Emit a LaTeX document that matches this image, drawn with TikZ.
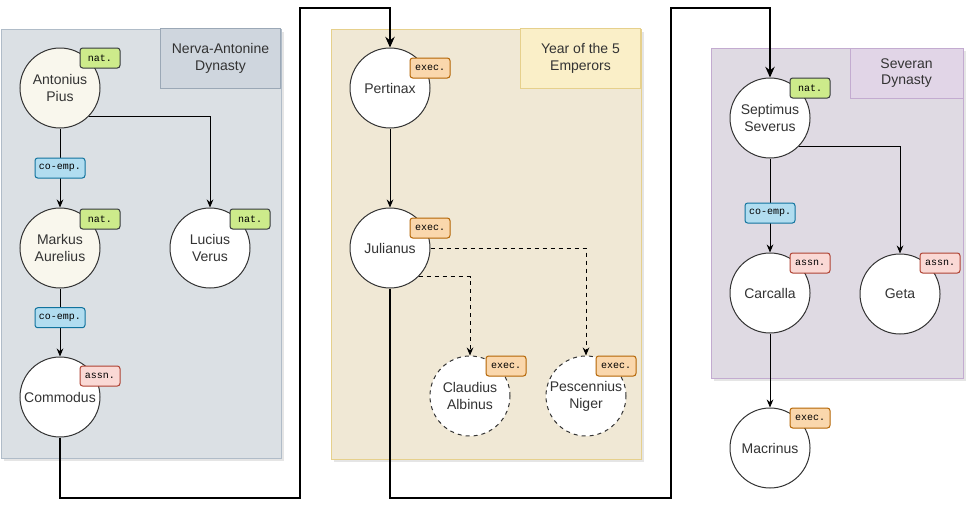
\documentclass[tikz,border=0pt]{standalone}
\usepackage{fontspec}
\setmainfont{Liberation Sans}
\setmonofont{Liberation Mono}
\usetikzlibrary{arrows.meta}

\definecolor{nervafill}{RGB}{219,224,228}
\definecolor{nervadraw}{RGB}{176,188,200}
\definecolor{nervatitle}{RGB}{207,214,222}
\definecolor{nervatitledraw}{RGB}{155,168,182}
\definecolor{yearfill}{RGB}{240,232,213}
\definecolor{yeardraw}{RGB}{230,208,140}
\definecolor{yeartitle}{RGB}{250,239,200}
\definecolor{severfill}{RGB}{223,218,227}
\definecolor{severdraw}{RGB}{195,171,208}
\definecolor{severtitle}{RGB}{225,213,231}
\definecolor{cream}{RGB}{249,247,237}
\definecolor{natfill}{RGB}{205,235,139}
\definecolor{natdraw}{RGB}{54,57,61}
\definecolor{empfill}{RGB}{177,221,240}
\definecolor{empdraw}{RGB}{16,115,158}
\definecolor{assnfill}{RGB}{250,217,213}
\definecolor{assndraw}{RGB}{174,65,50}
\definecolor{execfill}{RGB}{250,215,172}
\definecolor{execdraw}{RGB}{180,101,4}

\begin{document}
\begin{tikzpicture}[x=0.75pt, y=-0.75pt, font=\fontsize{10.5}{12.6}\selectfont,
	emperor/.style = {draw=black!80, line width=0.75pt, circle, fill=white, minimum size=60pt, inner sep=0pt, align=center, text=black!80},
	rival/.style = {emperor, dashed},
	tag/.style = {draw, line width=0.75pt, rounded corners=2pt, minimum width=30pt, minimum height=15pt, inner sep=0pt, font=\ttfamily\fontsize{7.5}{9}\selectfont},
	nat/.style = {tag, fill=natfill, draw=natdraw},
	assn/.style = {tag, fill=assnfill, draw=assndraw},
	exec/.style = {tag, fill=execfill, draw=execdraw},
	coemp/.style = {tag, fill=empfill, draw=empdraw, minimum width=37.5pt},
	panel/.style = {line width=0.75pt},
	title/.style = {draw, line width=0.75pt, minimum width=90pt, minimum height=45pt, inner sep=0pt, align=center, text=black!80},
	edge/.style = {line width=0.75pt, -{Stealth[length=6pt, width=5pt]}},
	succ/.style = {line width=1.5pt, -{Stealth[length=8pt, width=7pt]}}]
		\useasboundingbox (0,0) rectangle (966,507);
		
		\begin{scope}
			\fill[black!10] (4,32) rectangle (284,461);
			\draw[panel, fill=nervafill, draw=nervadraw] (1,29) rectangle (281,458);
			\node[title, fill=nervatitle, draw=nervatitledraw] (nerva) at (220.5,58.5) {Nerva-Antonine\\Dynasty};
			
			\node[emperor, fill=cream] (pius) at (60,88) {Antonius\\Pius};
			\node[emperor, fill=cream] (markus) at (60,248) {Markus\\Aurelius};
			\node[emperor] (lucius) at (210,248) {Lucius\\Verus};
			\node[emperor] (commodus) at (60,397) {Commodus};
			
			\draw[edge] (pius) -- node[coemp] (emp1) {co-emp.} (markus);
			\draw[edge] (pius.-44) -| (lucius.north);
			\draw[edge] (markus) -- node[coemp, pos=0.43] (emp2) {co-emp.} (commodus);
			
			\node[nat] (piustag) at (100,58) {nat.};
			\node[nat] (markustag) at (100,219) {nat.};
			\node[nat] (luciustag) at (250,219) {nat.};
			\node[assn] (commodustag) at (100,376) {assn.};
		\end{scope}
		
		\begin{scope}
			\fill[black!10] (334,32) rectangle (644,462);
			\draw[panel, fill=yearfill, draw=yeardraw] (331,29) rectangle (641,459);
			\node[title, fill=yeartitle, draw=yeardraw] (year) at (580.5,58.5) {Year of the 5\\Emperors};
			
			\node[emperor] (pertinax) at (390,88) {Pertinax};
			\node[emperor] (julianus) at (390,248) {Julianus};
			\node[rival] (albinus) at (470,396) {Claudius\\Albinus};
			\node[rival] (niger) at (586,396) {Pescennius\\Niger};
			
			\draw[edge] (pertinax) -- (julianus);
			\draw[edge, dashed] (julianus.east) -| (niger.north);
			\draw[edge, dashed] (julianus.-45) -| (albinus.north);
			
			\node[exec] (pertinaxtag) at (430,68) {exec.};
			\node[exec] (julianustag) at (430,228) {exec.};
			\node[exec] (albinustag) at (506,366) {exec.};
			\node[exec] (nigertag) at (616,366) {exec.};
		\end{scope}
		
		\begin{scope}
			\fill[black!10] (714,51) rectangle (966,381);
			\draw[panel, fill=severfill, draw=severdraw] (711,48) rectangle (963,378);
			\node[title, fill=severtitle, draw=severdraw, minimum width=84.75pt, minimum height=37.5pt] (severan) at (906.5,73) {Severan\\Dynasty};
			
			\node[emperor] (septimus) at (770,118) {Septimus\\Severus};
			\node[emperor] (carcalla) at (770,293) {Carcalla};
			\node[emperor] (geta) at (900,294) {Geta};
			\node[emperor] (macrinus) at (770,448) {Macrinus};
			
			\draw[edge] (septimus) -- node[coemp, pos=0.58] (emp3) {co-emp.} (carcalla);
			\draw[edge] (septimus.-44) -| (geta.north);
			\draw[edge] (carcalla) -- (macrinus);
			
			\node[nat] (septimustag) at (810,88) {nat.};
			\node[assn] (carcallatag) at (810,263) {assn.};
			\node[assn] (getatag) at (940,263) {assn.};
			\node[exec] (macrinustag) at (810,418) {exec.};
		\end{scope}
		
		\path[shape=coordinate]
		(300,498) coordinate(A)
		(300,8) coordinate(B)
		(671,498) coordinate(C)
		(671,8) coordinate(D);
		
		\draw[succ] (commodus.south) |- (A) -- (B) -| (pertinax.north);
		\draw[succ] (julianus.south) |- (C) -- (D) -| (septimus.north);
	\end{tikzpicture}
\end{document}
